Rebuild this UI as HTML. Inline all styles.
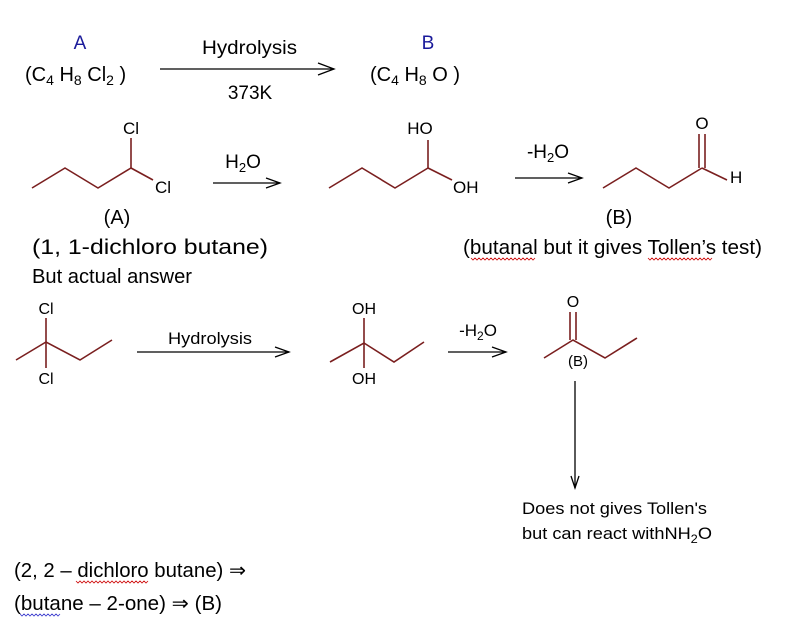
<!DOCTYPE html>
<html><head><style>
html,body{margin:0;padding:0;background:#fff;}
svg{display:block;}
text{font-family:"Liberation Sans",sans-serif;fill:#000;}
.b{stroke:#7a1f1f;stroke-width:1.6;fill:none;}
.a{stroke:#000;stroke-width:1.3;fill:none;}
</style></head><body>
<svg width="796" height="628" viewBox="0 0 796 628" xmlns="http://www.w3.org/2000/svg">
<text x="80" y="49" font-size="19" text-anchor="middle" style="fill:#1a1a9a">A</text>
<text x="25" y="81" font-size="20">(C<tspan font-size="14" dy="4">4</tspan><tspan dy="-4"> H</tspan><tspan font-size="14" dy="4">8</tspan><tspan dy="-4"> Cl</tspan><tspan font-size="14" dy="4">2</tspan><tspan dy="-4"> )</tspan></text>
<text x="202" y="54" font-size="19" textLength="95" lengthAdjust="spacingAndGlyphs">Hydrolysis</text>
<line class="a" x1="160" y1="69" x2="334" y2="69"/><path class="a" d="M318,63 L334,69 L318,75"/>
<text x="250" y="99" font-size="19" text-anchor="middle">373K</text>
<text x="428" y="49" font-size="19" text-anchor="middle" style="fill:#1a1a9a">B</text>
<text x="370" y="81" font-size="20">(C<tspan font-size="14" dy="4">4</tspan><tspan dy="-4"> H</tspan><tspan font-size="14" dy="4">8</tspan><tspan dy="-4"> O )</tspan></text>

<polyline class="b" points="32,188 65,168 98,188 131,168"/>
<line class="b" x1="131" y1="168" x2="131" y2="138"/>
<line class="b" x1="131" y1="168" x2="153" y2="180"/>
<text x="131" y="134" font-size="17" text-anchor="middle">Cl</text>
<text x="155" y="193" font-size="17">Cl</text>
<text x="243" y="168" font-size="19" text-anchor="middle">H<tspan font-size="13" dy="4">2</tspan><tspan dy="-4">O</tspan></text>
<line class="a" x1="213" y1="183" x2="280" y2="183"/><path class="a" d="M266,178 L280,183 L266,188"/>
<polyline class="b" points="329,188 362,168 395,188 428,168"/>
<line class="b" x1="428" y1="168" x2="428" y2="140"/>
<line class="b" x1="428" y1="168" x2="452" y2="180"/>
<text x="420" y="134" font-size="17" text-anchor="middle">HO</text>
<text x="453" y="193" font-size="17">OH</text>
<text x="548" y="158" font-size="19" text-anchor="middle">-H<tspan font-size="13" dy="4">2</tspan><tspan dy="-4">O</tspan></text>
<line class="a" x1="515" y1="178" x2="582" y2="178"/><path class="a" d="M568,173 L582,178 L568,183"/>
<polyline class="b" points="603,188 636,168 669,188 702,168"/>
<line class="b" x1="699" y1="168" x2="699" y2="134"/>
<line class="b" x1="705" y1="168" x2="705" y2="134"/>
<line class="b" x1="702" y1="168" x2="727" y2="180"/>
<text x="702" y="129" font-size="17" text-anchor="middle">O</text>
<text x="730" y="183" font-size="17">H</text>
<text x="117" y="224" font-size="20" text-anchor="middle">(A)</text>
<text x="32" y="254" font-size="21" textLength="236" lengthAdjust="spacingAndGlyphs">(1, 1-dichloro butane)</text>
<text x="32" y="283" font-size="20" textLength="160" lengthAdjust="spacingAndGlyphs">But actual answer</text>
<text x="619" y="224" font-size="20" text-anchor="middle">(B)</text>
<text x="463" y="254" font-size="20" textLength="299" lengthAdjust="spacingAndGlyphs">(butanal but it gives Tollen’s test)</text>
<path d="M471,258 l2,2 2,-2 2,2 2,-2 2,2 2,-2 2,2 2,-2 2,2 2,-2 2,2 2,-2 2,2 2,-2 2,2 2,-2 2,2 2,-2 2,2 2,-2 2,2 2,-2 2,2 2,-2 2,2 2,-2 2,2 2,-2 2,2 2,-2 2,2 2,-2" stroke="#c00" stroke-width="0.8" fill="none"/>
<path d="M648,258 l2,2 2,-2 2,2 2,-2 2,2 2,-2 2,2 2,-2 2,2 2,-2 2,2 2,-2 2,2 2,-2 2,2 2,-2 2,2 2,-2 2,2 2,-2 2,2 2,-2 2,2 2,-2 2,2 2,-2 2,2 2,-2 2,2 2,-2 2,2 2,-2" stroke="#c00" stroke-width="0.8" fill="none"/>

<line class="b" x1="46" y1="342" x2="46" y2="318"/>
<line class="b" x1="46" y1="342" x2="46" y2="368"/>
<polyline class="b" points="16,360 46,342 80,360 112,340"/>
<text x="46" y="314" font-size="16" text-anchor="middle">Cl</text>
<text x="46" y="384" font-size="16" text-anchor="middle">Cl</text>
<text x="168" y="344" font-size="17" textLength="84" lengthAdjust="spacingAndGlyphs">Hydrolysis</text>
<line class="a" x1="137" y1="352" x2="289" y2="352"/><path class="a" d="M275,347 L289,352 L275,357"/>
<line class="b" x1="364" y1="343" x2="364" y2="318"/>
<line class="b" x1="364" y1="343" x2="364" y2="368"/>
<polyline class="b" points="330,362 364,343 394,362 424,342"/>
<text x="364" y="314" font-size="16" text-anchor="middle">OH</text>
<text x="364" y="384" font-size="16" text-anchor="middle">OH</text>
<text x="478" y="336" font-size="17" text-anchor="middle">-H<tspan font-size="12" dy="4">2</tspan><tspan dy="-4">O</tspan></text>
<line class="a" x1="448" y1="352" x2="506" y2="352"/><path class="a" d="M492,347 L506,352 L492,357"/>
<line class="b" x1="570" y1="340" x2="570" y2="312"/>
<line class="b" x1="576" y1="340" x2="576" y2="312"/>
<polyline class="b" points="544,358 573,340 605,358 637,338"/>
<text x="573" y="307" font-size="16" text-anchor="middle">O</text>
<text x="578" y="366" font-size="15" text-anchor="middle">(B)</text>
<line class="a" x1="575" y1="381" x2="575" y2="488"/><path class="a" d="M571,476 L575,488 L579,476"/>
<text x="522" y="514" font-size="17" textLength="185" lengthAdjust="spacingAndGlyphs">Does not gives Tollen's</text>
<text x="522" y="539" font-size="17" textLength="190" lengthAdjust="spacingAndGlyphs">but can react withNH<tspan font-size="12" dy="4">2</tspan><tspan dy="-4">O</tspan></text>

<text x="14" y="577" font-size="20" textLength="232" lengthAdjust="spacingAndGlyphs">(2, 2 – dichloro butane) ⇒</text>
<path d="M76,581 l2,2 2,-2 2,2 2,-2 2,2 2,-2 2,2 2,-2 2,2 2,-2 2,2 2,-2 2,2 2,-2 2,2 2,-2 2,2 2,-2 2,2 2,-2 2,2 2,-2 2,2 2,-2 2,2 2,-2 2,2 2,-2 2,2 2,-2 2,2 2,-2 2,2 2,-2 2,2 2,-2" stroke="#c00" stroke-width="0.8" fill="none"/>
<text x="14" y="610" font-size="20" textLength="208" lengthAdjust="spacingAndGlyphs">(butane – 2-one) ⇒ (B)</text>
<path d="M20,614 l2,2 2,-2 2,2 2,-2 2,2 2,-2 2,2 2,-2 2,2 2,-2 2,2 2,-2 2,2 2,-2 2,2 2,-2 2,2 2,-2 2,2 2,-2" stroke="#33c" stroke-width="0.8" fill="none"/>
</svg>
</body></html>
